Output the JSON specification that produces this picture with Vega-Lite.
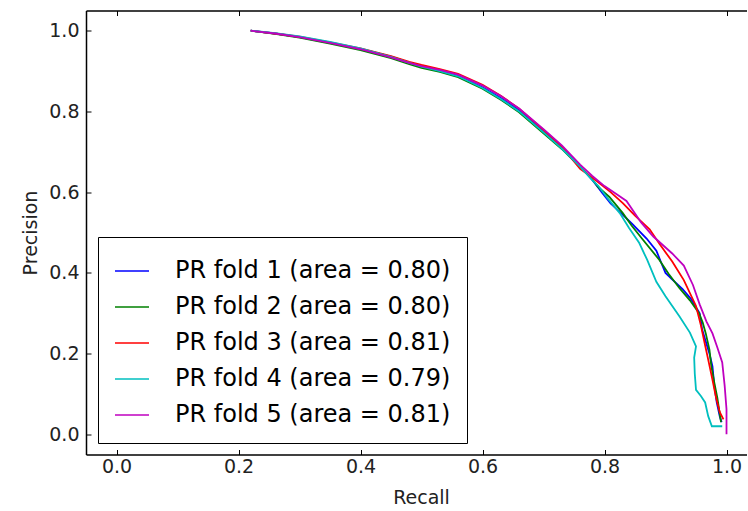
{
  "$schema": "https://vega.github.io/schema/vega-lite/v6.json",
  "width": 661,
  "height": 444,
  "autosize": {"type": "none"},
  "padding": {"left": 86, "top": 10.5, "right": 0, "bottom": 56.5},
  "config": {
    "view": {"stroke": null},
    "font": "DejaVu Sans",
    "axis": {
      "grid": false,
      "domainColor": "#000",
      "domainWidth": 1.5,
      "tickColor": "#000",
      "tickWidth": 1,
      "tickSize": -5,
      "labelFont": "DejaVu Sans",
      "labelFontSize": 19,
      "labelColor": "#222",
      "titleFont": "DejaVu Sans",
      "titleFontSize": 19,
      "titleFontWeight": "normal",
      "titleColor": "#222",
      "labelFlush": false,
      "labelOverlap": false
    }
  },
  "datasets": {
    "pr": [
      {"fold": "PR fold 1 (area = 0.80)", "i": 0, "recall": 0.22, "precision": 1.0},
      {"fold": "PR fold 1 (area = 0.80)", "i": 1, "recall": 0.26, "precision": 0.993},
      {"fold": "PR fold 1 (area = 0.80)", "i": 2, "recall": 0.30, "precision": 0.984},
      {"fold": "PR fold 1 (area = 0.80)", "i": 3, "recall": 0.35, "precision": 0.970},
      {"fold": "PR fold 1 (area = 0.80)", "i": 4, "recall": 0.40, "precision": 0.955},
      {"fold": "PR fold 1 (area = 0.80)", "i": 5, "recall": 0.45, "precision": 0.936},
      {"fold": "PR fold 1 (area = 0.80)", "i": 6, "recall": 0.48, "precision": 0.921},
      {"fold": "PR fold 1 (area = 0.80)", "i": 7, "recall": 0.50, "precision": 0.912},
      {"fold": "PR fold 1 (area = 0.80)", "i": 8, "recall": 0.53, "precision": 0.901},
      {"fold": "PR fold 1 (area = 0.80)", "i": 9, "recall": 0.56, "precision": 0.888},
      {"fold": "PR fold 1 (area = 0.80)", "i": 10, "recall": 0.60, "precision": 0.860},
      {"fold": "PR fold 1 (area = 0.80)", "i": 11, "recall": 0.63, "precision": 0.833},
      {"fold": "PR fold 1 (area = 0.80)", "i": 12, "recall": 0.66, "precision": 0.803},
      {"fold": "PR fold 1 (area = 0.80)", "i": 13, "recall": 0.70, "precision": 0.750},
      {"fold": "PR fold 1 (area = 0.80)", "i": 14, "recall": 0.73, "precision": 0.710},
      {"fold": "PR fold 1 (area = 0.80)", "i": 15, "recall": 0.76, "precision": 0.664},
      {"fold": "PR fold 1 (area = 0.80)", "i": 16, "recall": 0.78, "precision": 0.630},
      {"fold": "PR fold 1 (area = 0.80)", "i": 17, "recall": 0.797, "precision": 0.597},
      {"fold": "PR fold 1 (area = 0.80)", "i": 18, "recall": 0.81, "precision": 0.572},
      {"fold": "PR fold 1 (area = 0.80)", "i": 19, "recall": 0.825, "precision": 0.551},
      {"fold": "PR fold 1 (area = 0.80)", "i": 20, "recall": 0.845, "precision": 0.522},
      {"fold": "PR fold 1 (area = 0.80)", "i": 21, "recall": 0.869, "precision": 0.485},
      {"fold": "PR fold 1 (area = 0.80)", "i": 22, "recall": 0.885, "precision": 0.455},
      {"fold": "PR fold 1 (area = 0.80)", "i": 23, "recall": 0.893, "precision": 0.425},
      {"fold": "PR fold 1 (area = 0.80)", "i": 24, "recall": 0.900, "precision": 0.400},
      {"fold": "PR fold 1 (area = 0.80)", "i": 25, "recall": 0.910, "precision": 0.385},
      {"fold": "PR fold 1 (area = 0.80)", "i": 26, "recall": 0.928, "precision": 0.360},
      {"fold": "PR fold 1 (area = 0.80)", "i": 27, "recall": 0.942, "precision": 0.335},
      {"fold": "PR fold 1 (area = 0.80)", "i": 28, "recall": 0.956, "precision": 0.300},
      {"fold": "PR fold 1 (area = 0.80)", "i": 29, "recall": 0.960, "precision": 0.260},
      {"fold": "PR fold 1 (area = 0.80)", "i": 30, "recall": 0.965, "precision": 0.235},
      {"fold": "PR fold 1 (area = 0.80)", "i": 31, "recall": 0.972, "precision": 0.200},
      {"fold": "PR fold 1 (area = 0.80)", "i": 32, "recall": 0.977, "precision": 0.168},
      {"fold": "PR fold 1 (area = 0.80)", "i": 33, "recall": 0.980, "precision": 0.120},
      {"fold": "PR fold 1 (area = 0.80)", "i": 34, "recall": 0.984, "precision": 0.079},
      {"fold": "PR fold 1 (area = 0.80)", "i": 35, "recall": 0.989, "precision": 0.044},
      {"fold": "PR fold 1 (area = 0.80)", "i": 36, "recall": 0.992, "precision": 0.030},

      {"fold": "PR fold 2 (area = 0.80)", "i": 0, "recall": 0.22, "precision": 1.0},
      {"fold": "PR fold 2 (area = 0.80)", "i": 1, "recall": 0.26, "precision": 0.992},
      {"fold": "PR fold 2 (area = 0.80)", "i": 2, "recall": 0.30, "precision": 0.983},
      {"fold": "PR fold 2 (area = 0.80)", "i": 3, "recall": 0.35, "precision": 0.968},
      {"fold": "PR fold 2 (area = 0.80)", "i": 4, "recall": 0.40, "precision": 0.952},
      {"fold": "PR fold 2 (area = 0.80)", "i": 5, "recall": 0.45, "precision": 0.932},
      {"fold": "PR fold 2 (area = 0.80)", "i": 6, "recall": 0.48, "precision": 0.917},
      {"fold": "PR fold 2 (area = 0.80)", "i": 7, "recall": 0.50, "precision": 0.908},
      {"fold": "PR fold 2 (area = 0.80)", "i": 8, "recall": 0.53, "precision": 0.898},
      {"fold": "PR fold 2 (area = 0.80)", "i": 9, "recall": 0.56, "precision": 0.885},
      {"fold": "PR fold 2 (area = 0.80)", "i": 10, "recall": 0.60, "precision": 0.856},
      {"fold": "PR fold 2 (area = 0.80)", "i": 11, "recall": 0.63, "precision": 0.829},
      {"fold": "PR fold 2 (area = 0.80)", "i": 12, "recall": 0.66, "precision": 0.798},
      {"fold": "PR fold 2 (area = 0.80)", "i": 13, "recall": 0.70, "precision": 0.746},
      {"fold": "PR fold 2 (area = 0.80)", "i": 14, "recall": 0.73, "precision": 0.707},
      {"fold": "PR fold 2 (area = 0.80)", "i": 15, "recall": 0.76, "precision": 0.662},
      {"fold": "PR fold 2 (area = 0.80)", "i": 16, "recall": 0.78, "precision": 0.632},
      {"fold": "PR fold 2 (area = 0.80)", "i": 17, "recall": 0.79, "precision": 0.612},
      {"fold": "PR fold 2 (area = 0.80)", "i": 18, "recall": 0.808, "precision": 0.588},
      {"fold": "PR fold 2 (area = 0.80)", "i": 19, "recall": 0.83, "precision": 0.548},
      {"fold": "PR fold 2 (area = 0.80)", "i": 20, "recall": 0.845, "precision": 0.516},
      {"fold": "PR fold 2 (area = 0.80)", "i": 21, "recall": 0.862, "precision": 0.484},
      {"fold": "PR fold 2 (area = 0.80)", "i": 22, "recall": 0.89, "precision": 0.432},
      {"fold": "PR fold 2 (area = 0.80)", "i": 23, "recall": 0.905, "precision": 0.398},
      {"fold": "PR fold 2 (area = 0.80)", "i": 24, "recall": 0.923, "precision": 0.362},
      {"fold": "PR fold 2 (area = 0.80)", "i": 25, "recall": 0.94, "precision": 0.332},
      {"fold": "PR fold 2 (area = 0.80)", "i": 26, "recall": 0.955, "precision": 0.300},
      {"fold": "PR fold 2 (area = 0.80)", "i": 27, "recall": 0.961, "precision": 0.277},
      {"fold": "PR fold 2 (area = 0.80)", "i": 28, "recall": 0.966, "precision": 0.250},
      {"fold": "PR fold 2 (area = 0.80)", "i": 29, "recall": 0.972, "precision": 0.210},
      {"fold": "PR fold 2 (area = 0.80)", "i": 30, "recall": 0.975, "precision": 0.170},
      {"fold": "PR fold 2 (area = 0.80)", "i": 31, "recall": 0.980, "precision": 0.128},
      {"fold": "PR fold 2 (area = 0.80)", "i": 32, "recall": 0.985, "precision": 0.090},
      {"fold": "PR fold 2 (area = 0.80)", "i": 33, "recall": 0.989, "precision": 0.050},
      {"fold": "PR fold 2 (area = 0.80)", "i": 34, "recall": 0.991, "precision": 0.030},

      {"fold": "PR fold 3 (area = 0.81)", "i": 0, "recall": 0.22, "precision": 1.0},
      {"fold": "PR fold 3 (area = 0.81)", "i": 1, "recall": 0.26, "precision": 0.993},
      {"fold": "PR fold 3 (area = 0.81)", "i": 2, "recall": 0.30, "precision": 0.985},
      {"fold": "PR fold 3 (area = 0.81)", "i": 3, "recall": 0.35, "precision": 0.971},
      {"fold": "PR fold 3 (area = 0.81)", "i": 4, "recall": 0.40, "precision": 0.956},
      {"fold": "PR fold 3 (area = 0.81)", "i": 5, "recall": 0.45, "precision": 0.937},
      {"fold": "PR fold 3 (area = 0.81)", "i": 6, "recall": 0.48, "precision": 0.923},
      {"fold": "PR fold 3 (area = 0.81)", "i": 7, "recall": 0.50, "precision": 0.915},
      {"fold": "PR fold 3 (area = 0.81)", "i": 8, "recall": 0.53, "precision": 0.905},
      {"fold": "PR fold 3 (area = 0.81)", "i": 9, "recall": 0.56, "precision": 0.893},
      {"fold": "PR fold 3 (area = 0.81)", "i": 10, "recall": 0.60, "precision": 0.866},
      {"fold": "PR fold 3 (area = 0.81)", "i": 11, "recall": 0.63, "precision": 0.839},
      {"fold": "PR fold 3 (area = 0.81)", "i": 12, "recall": 0.66, "precision": 0.807},
      {"fold": "PR fold 3 (area = 0.81)", "i": 13, "recall": 0.70, "precision": 0.754},
      {"fold": "PR fold 3 (area = 0.81)", "i": 14, "recall": 0.73, "precision": 0.713},
      {"fold": "PR fold 3 (area = 0.81)", "i": 15, "recall": 0.76, "precision": 0.658},
      {"fold": "PR fold 3 (area = 0.81)", "i": 16, "recall": 0.78, "precision": 0.636},
      {"fold": "PR fold 3 (area = 0.81)", "i": 17, "recall": 0.795, "precision": 0.618},
      {"fold": "PR fold 3 (area = 0.81)", "i": 18, "recall": 0.81, "precision": 0.600},
      {"fold": "PR fold 3 (area = 0.81)", "i": 19, "recall": 0.83, "precision": 0.573},
      {"fold": "PR fold 3 (area = 0.81)", "i": 20, "recall": 0.85, "precision": 0.542},
      {"fold": "PR fold 3 (area = 0.81)", "i": 21, "recall": 0.874, "precision": 0.508},
      {"fold": "PR fold 3 (area = 0.81)", "i": 22, "recall": 0.89, "precision": 0.472},
      {"fold": "PR fold 3 (area = 0.81)", "i": 23, "recall": 0.911, "precision": 0.428},
      {"fold": "PR fold 3 (area = 0.81)", "i": 24, "recall": 0.93, "precision": 0.382},
      {"fold": "PR fold 3 (area = 0.81)", "i": 25, "recall": 0.95, "precision": 0.318},
      {"fold": "PR fold 3 (area = 0.81)", "i": 26, "recall": 0.958, "precision": 0.270},
      {"fold": "PR fold 3 (area = 0.81)", "i": 27, "recall": 0.965, "precision": 0.220},
      {"fold": "PR fold 3 (area = 0.81)", "i": 28, "recall": 0.970, "precision": 0.185},
      {"fold": "PR fold 3 (area = 0.81)", "i": 29, "recall": 0.977, "precision": 0.135},
      {"fold": "PR fold 3 (area = 0.81)", "i": 30, "recall": 0.983, "precision": 0.090},
      {"fold": "PR fold 3 (area = 0.81)", "i": 31, "recall": 0.989, "precision": 0.055},
      {"fold": "PR fold 3 (area = 0.81)", "i": 32, "recall": 0.995, "precision": 0.037},

      {"fold": "PR fold 4 (area = 0.79)", "i": 0, "recall": 0.22, "precision": 1.0},
      {"fold": "PR fold 4 (area = 0.79)", "i": 1, "recall": 0.26, "precision": 0.994},
      {"fold": "PR fold 4 (area = 0.79)", "i": 2, "recall": 0.30, "precision": 0.986},
      {"fold": "PR fold 4 (area = 0.79)", "i": 3, "recall": 0.35, "precision": 0.972},
      {"fold": "PR fold 4 (area = 0.79)", "i": 4, "recall": 0.40, "precision": 0.956},
      {"fold": "PR fold 4 (area = 0.79)", "i": 5, "recall": 0.45, "precision": 0.935},
      {"fold": "PR fold 4 (area = 0.79)", "i": 6, "recall": 0.48, "precision": 0.920},
      {"fold": "PR fold 4 (area = 0.79)", "i": 7, "recall": 0.50, "precision": 0.911},
      {"fold": "PR fold 4 (area = 0.79)", "i": 8, "recall": 0.53, "precision": 0.900},
      {"fold": "PR fold 4 (area = 0.79)", "i": 9, "recall": 0.56, "precision": 0.887},
      {"fold": "PR fold 4 (area = 0.79)", "i": 10, "recall": 0.60, "precision": 0.858},
      {"fold": "PR fold 4 (area = 0.79)", "i": 11, "recall": 0.63, "precision": 0.831},
      {"fold": "PR fold 4 (area = 0.79)", "i": 12, "recall": 0.66, "precision": 0.800},
      {"fold": "PR fold 4 (area = 0.79)", "i": 13, "recall": 0.70, "precision": 0.748},
      {"fold": "PR fold 4 (area = 0.79)", "i": 14, "recall": 0.73, "precision": 0.708},
      {"fold": "PR fold 4 (area = 0.79)", "i": 15, "recall": 0.76, "precision": 0.663},
      {"fold": "PR fold 4 (area = 0.79)", "i": 16, "recall": 0.78, "precision": 0.630},
      {"fold": "PR fold 4 (area = 0.79)", "i": 17, "recall": 0.79, "precision": 0.615},
      {"fold": "PR fold 4 (area = 0.79)", "i": 18, "recall": 0.805, "precision": 0.585},
      {"fold": "PR fold 4 (area = 0.79)", "i": 19, "recall": 0.825, "precision": 0.548},
      {"fold": "PR fold 4 (area = 0.79)", "i": 20, "recall": 0.84, "precision": 0.512},
      {"fold": "PR fold 4 (area = 0.79)", "i": 21, "recall": 0.857, "precision": 0.474},
      {"fold": "PR fold 4 (area = 0.79)", "i": 22, "recall": 0.87, "precision": 0.432},
      {"fold": "PR fold 4 (area = 0.79)", "i": 23, "recall": 0.885, "precision": 0.378},
      {"fold": "PR fold 4 (area = 0.79)", "i": 24, "recall": 0.90, "precision": 0.342},
      {"fold": "PR fold 4 (area = 0.79)", "i": 25, "recall": 0.923, "precision": 0.292},
      {"fold": "PR fold 4 (area = 0.79)", "i": 26, "recall": 0.94, "precision": 0.252},
      {"fold": "PR fold 4 (area = 0.79)", "i": 27, "recall": 0.950, "precision": 0.218},
      {"fold": "PR fold 4 (area = 0.79)", "i": 28, "recall": 0.947, "precision": 0.190},
      {"fold": "PR fold 4 (area = 0.79)", "i": 29, "recall": 0.948, "precision": 0.150},
      {"fold": "PR fold 4 (area = 0.79)", "i": 30, "recall": 0.950, "precision": 0.110},
      {"fold": "PR fold 4 (area = 0.79)", "i": 31, "recall": 0.958, "precision": 0.095},
      {"fold": "PR fold 4 (area = 0.79)", "i": 32, "recall": 0.965, "precision": 0.079},
      {"fold": "PR fold 4 (area = 0.79)", "i": 33, "recall": 0.970, "precision": 0.045},
      {"fold": "PR fold 4 (area = 0.79)", "i": 34, "recall": 0.976, "precision": 0.020},
      {"fold": "PR fold 4 (area = 0.79)", "i": 35, "recall": 0.993, "precision": 0.020},

      {"fold": "PR fold 5 (area = 0.81)", "i": 0, "recall": 0.22, "precision": 1.0},
      {"fold": "PR fold 5 (area = 0.81)", "i": 1, "recall": 0.26, "precision": 0.993},
      {"fold": "PR fold 5 (area = 0.81)", "i": 2, "recall": 0.30, "precision": 0.984},
      {"fold": "PR fold 5 (area = 0.81)", "i": 3, "recall": 0.35, "precision": 0.970},
      {"fold": "PR fold 5 (area = 0.81)", "i": 4, "recall": 0.40, "precision": 0.954},
      {"fold": "PR fold 5 (area = 0.81)", "i": 5, "recall": 0.45, "precision": 0.934},
      {"fold": "PR fold 5 (area = 0.81)", "i": 6, "recall": 0.48, "precision": 0.920},
      {"fold": "PR fold 5 (area = 0.81)", "i": 7, "recall": 0.50, "precision": 0.912},
      {"fold": "PR fold 5 (area = 0.81)", "i": 8, "recall": 0.53, "precision": 0.903},
      {"fold": "PR fold 5 (area = 0.81)", "i": 9, "recall": 0.56, "precision": 0.891},
      {"fold": "PR fold 5 (area = 0.81)", "i": 10, "recall": 0.60, "precision": 0.864},
      {"fold": "PR fold 5 (area = 0.81)", "i": 11, "recall": 0.63, "precision": 0.838},
      {"fold": "PR fold 5 (area = 0.81)", "i": 12, "recall": 0.66, "precision": 0.807},
      {"fold": "PR fold 5 (area = 0.81)", "i": 13, "recall": 0.70, "precision": 0.756},
      {"fold": "PR fold 5 (area = 0.81)", "i": 14, "recall": 0.73, "precision": 0.716},
      {"fold": "PR fold 5 (area = 0.81)", "i": 15, "recall": 0.76, "precision": 0.668},
      {"fold": "PR fold 5 (area = 0.81)", "i": 16, "recall": 0.78, "precision": 0.640},
      {"fold": "PR fold 5 (area = 0.81)", "i": 17, "recall": 0.80, "precision": 0.615},
      {"fold": "PR fold 5 (area = 0.81)", "i": 18, "recall": 0.82, "precision": 0.595},
      {"fold": "PR fold 5 (area = 0.81)", "i": 19, "recall": 0.836, "precision": 0.578},
      {"fold": "PR fold 5 (area = 0.81)", "i": 20, "recall": 0.86, "precision": 0.525},
      {"fold": "PR fold 5 (area = 0.81)", "i": 21, "recall": 0.88, "precision": 0.490},
      {"fold": "PR fold 5 (area = 0.81)", "i": 22, "recall": 0.911, "precision": 0.448},
      {"fold": "PR fold 5 (area = 0.81)", "i": 23, "recall": 0.93, "precision": 0.418},
      {"fold": "PR fold 5 (area = 0.81)", "i": 24, "recall": 0.945, "precision": 0.370},
      {"fold": "PR fold 5 (area = 0.81)", "i": 25, "recall": 0.956, "precision": 0.322},
      {"fold": "PR fold 5 (area = 0.81)", "i": 26, "recall": 0.967, "precision": 0.280},
      {"fold": "PR fold 5 (area = 0.81)", "i": 27, "recall": 0.977, "precision": 0.250},
      {"fold": "PR fold 5 (area = 0.81)", "i": 28, "recall": 0.985, "precision": 0.215},
      {"fold": "PR fold 5 (area = 0.81)", "i": 29, "recall": 0.993, "precision": 0.178},
      {"fold": "PR fold 5 (area = 0.81)", "i": 30, "recall": 0.997, "precision": 0.120},
      {"fold": "PR fold 5 (area = 0.81)", "i": 31, "recall": 1.0, "precision": 0.062},
      {"fold": "PR fold 5 (area = 0.81)", "i": 32, "recall": 1.0, "precision": 0.0}
    ]
  },
  "data": {"name": "pr"},
  "layer": [
    {
      "mark": {"type": "line", "strokeWidth": 1.8, "clip": true},
      "encoding": {
        "x": {
          "field": "recall", "type": "quantitative",
          "scale": {"domain": [-0.05, 1.0336], "nice": false, "zero": false},
          "axis": {"orient": "bottom", "values": [0, 0.2, 0.4, 0.6, 0.8, 1.0], "format": ".1f", "labelPadding": 8, "title": "Recall", "titlePadding": 12, "titleX": 335}
        },
        "y": {
          "field": "precision", "type": "quantitative",
          "scale": {"domain": [-0.05, 1.05], "nice": false, "zero": false},
          "axis": {"orient": "left", "values": [0, 0.2, 0.4, 0.6, 0.8, 1.0], "format": ".1f", "labelPadding": 12, "title": "Precision", "titlePadding": 8}
        },
        "color": {
          "field": "fold", "type": "nominal",
          "scale": {
            "domain": ["PR fold 1 (area = 0.80)", "PR fold 2 (area = 0.80)", "PR fold 3 (area = 0.81)", "PR fold 4 (area = 0.79)", "PR fold 5 (area = 0.81)"],
            "range": ["#0000ff", "#008000", "#ff0000", "#00bfbf", "#bf00bf"]
          },
          "legend": {
            "orient": "none", "legendX": 12, "legendY": 226.5, "title": null,
            "strokeColor": "#000", "fillColor": "#fff", "padding": 16, "cornerRadius": 0,
            "symbolType": "stroke", "symbolSize": 1156, "symbolStrokeWidth": 1.6,
            "labelFont": "DejaVu Sans", "labelFontSize": 24, "labelColor": "#000", "labelOffset": 25, "labelLimit": 500,
            "rowPadding": 6
          }
        },
        "order": {"field": "i", "type": "quantitative"}
      }
    },
    {
      "mark": {"type": "point", "opacity": 0},
      "encoding": {
        "x": {"field": "recall", "type": "quantitative", "axis": {"orient": "top", "labels": false, "title": null, "values": [0, 0.2, 0.4, 0.6, 0.8, 1.0]}}
      }
    }
  ],
  "resolve": {"axis": {"x": "independent"}}
}
